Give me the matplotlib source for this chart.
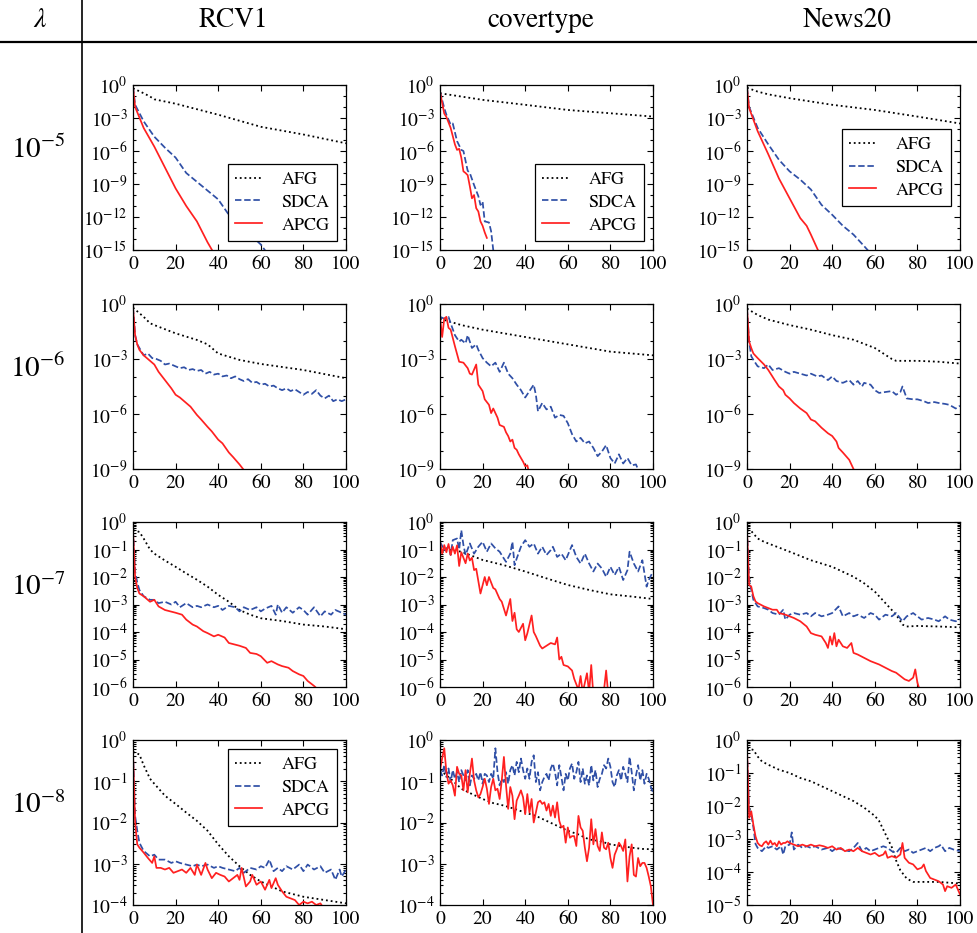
import numpy as np
import matplotlib.pyplot as plt
from matplotlib.lines import Line2D
from matplotlib.ticker import LogFormatterMathtext, NullFormatter

plt.rcParams['font.family'] = 'STIXGeneral'
plt.rcParams['mathtext.fontset'] = 'stix'

# values are log10 of the objective gap

# ---- RCV1, lambda = 1e-5
rcv1_5_afg_x = [0, 5, 8, 10, 20, 40, 60, 80, 100]
rcv1_5_afg = [-0.3, -0.75, -1.05, -1.3, -1.7, -2.7, -3.8, -4.5, -5.3]
rcv1_5_sdca_x = [0, 1, 5, 10, 15, 20, 25, 30, 35, 40, 45, 50, 55, 60, 63]
rcv1_5_sdca = [-0.2, -1.8, -3.3, -4.7, -5.7, -6.6, -8.0, -8.8, -9.6, -10.4, -11.8, -12.7, -13.6, -14.5, -15.3]
rcv1_5_apcg_x = [0, 1, 5, 10, 15, 20, 25, 30, 35, 38]
rcv1_5_apcg = [-0.2, -2.0, -3.9, -5.6, -7.5, -9.4, -11.0, -12.4, -14.3, -15.3]

# ---- covertype, lambda = 1e-5
cov_5_afg_x = [0, 20, 40, 60, 80, 100]
cov_5_afg = [-0.75, -1.35, -1.8, -2.27, -2.57, -2.87]
cov_5_sdca_x = [0, 2, 3, 5, 6, 8, 10, 11, 13, 14, 16, 18, 19, 20, 21, 23, 24, 25, 26]
cov_5_sdca = [-0.6, -2.1, -2.7, -3.6, -3.5, -5.1, -5.9, -6.0, -7.8, -8.0, -9.1, -10.1, -10.9, -10.6, -12.4, -12.5, -13.3, -15.0, -15.5]
cov_5_apcg_x = [0, 2, 3, 5, 7, 8, 9, 10, 11, 12, 13, 14, 15, 16, 17, 18, 19, 20, 21, 22]
cov_5_apcg = [-0.6, -2.6, -2.9, -3.9, -5.4, -5.9, -5.8, -6.6, -7.85, -8.0, -8.2, -9.2, -10.3, -10.0, -11.2, -11.5, -12.4, -12.8, -13.4, -13.9]

# ---- News20, lambda = 1e-5
news_5_afg_x = [0, 5, 10, 20, 40, 60, 80, 100]
news_5_afg = [-0.25, -0.6, -0.85, -1.2, -1.8, -2.27, -2.87, -3.5]
news_5_sdca_x = [0, 1, 5, 10, 15, 20, 25, 30, 35, 40, 45, 50, 55, 58]
news_5_sdca = [-0.25, -2.0, -3.9, -5.4, -6.8, -7.85, -8.6, -9.5, -10.9, -11.8, -12.8, -13.6, -14.65, -15.3]
news_5_apcg_x = [0, 1, 5, 10, 15, 20, 25, 28, 30, 34]
news_5_apcg = [-0.25, -2.1, -4.2, -6.3, -8.5, -10.3, -12.1, -12.8, -13.6, -15.3]

# ---- RCV1, lambda = 1e-6
rcv1_6_afg_x = [0, 5, 8, 10, 20, 30, 35, 40, 50, 60, 80, 100]
rcv1_6_afg = [-0.2, -0.7, -1.05, -1.15, -1.6, -1.96, -2.2, -2.7, -3.05, -3.27, -3.6, -4.05]
rcv1_6_sdca_x = [0, 1, 2, 4, 5, 7, 9, 11, 13, 15, 17, 20, 22, 24, 26, 28, 30, 32, 34, 36, 38, 40, 42, 44, 46, 48,
                 50, 52, 54, 56, 58, 60, 62, 64, 66, 68, 70, 72, 74, 76, 78, 80, 82, 84, 86, 88, 90, 92, 94, 96, 98, 100]
rcv1_6_sdca = [-0.2, -1.7, -2.2, -2.6, -2.8, -2.7, -2.95, -3.0, -3.1, -3.3, -3.25, -3.4, -3.5, -3.45, -3.6, -3.55,
               -3.65, -3.6, -3.8, -3.7, -3.85, -3.8, -3.95, -3.9, -4.05, -3.95, -4.1, -4.2, -4.1, -4.3, -4.25, -4.4,
               -4.35, -4.5, -4.45, -4.6, -4.7, -4.6, -4.75, -4.65, -4.8, -4.95, -4.8, -4.9, -4.7, -5.0, -5.15, -5.0,
               -5.3, -5.2, -5.3, -5.2]
rcv1_6_apcg_x = [0, 1, 2, 3, 5, 7, 10, 12, 15, 18, 20, 22, 25, 27, 30, 32, 35, 37, 40, 42, 45, 47, 50, 53]
rcv1_6_apcg = [-0.2, -1.7, -2.2, -2.5, -2.8, -3.0, -3.3, -3.7, -4.15, -4.6, -4.95, -5.1, -5.4, -5.6, -6.05, -6.3,
               -6.7, -6.95, -7.4, -7.6, -8.1, -8.35, -8.75, -9.2]

# ---- covertype, lambda = 1e-6
cov_6_afg_x = [0, 10, 20, 40, 60, 80, 100]
cov_6_afg = [-0.8, -1.15, -1.4, -1.8, -2.2, -2.6, -2.8]
cov_6_sdca_x = [0, 2, 4, 5, 7, 9, 10, 12, 13, 15, 17, 18, 20, 22, 24, 26, 28, 30, 32, 34, 36, 38, 40, 42, 44, 45,
                46, 48, 50, 52, 54, 56, 58, 60, 62, 64, 66, 68, 70, 72, 74, 76, 78, 80, 82, 84, 86, 88, 90, 92, 94]
cov_6_sdca = [-0.7, -0.8, -0.7, -1.05, -1.7, -2.05, -1.95, -2.15, -1.7, -2.4, -2.2, -2.5, -2.95, -3.2, -3.4, -3.2,
              -3.7, -3.2, -3.8, -4.05, -4.4, -4.7, -5.1, -4.75, -4.4, -4.95, -5.85, -5.4, -5.75, -5.6, -6.2, -6.05,
              -6.1, -6.5, -7.1, -7.5, -7.3, -7.6, -7.5, -7.85, -8.3, -8.05, -7.7, -8.4, -8.7, -8.2, -8.7, -8.4, -8.8,
              -8.75, -9.3]
cov_6_apcg_x = [0, 1, 2, 3, 4, 5, 7, 9, 11, 13, 14, 15, 17, 18, 20, 21, 23, 24, 25, 27, 28, 30, 31, 32, 33, 34,
                35, 36, 37, 38, 39, 40, 41, 42]
cov_6_apcg = [-0.7, -1.8, -0.8, -0.7, -1.3, -1.4, -2.3, -3.15, -3.2, -3.5, -3.8, -3.85, -3.3, -4.4, -4.75, -5.2,
              -5.5, -5.95, -5.7, -6.2, -6.6, -6.7, -7.0, -7.2, -7.5, -7.4, -7.85, -7.95, -8.2, -8.4, -8.6, -8.85,
              -8.8, -9.3]

# ---- News20, lambda = 1e-6
news_6_afg_x = [0, 5, 10, 20, 30, 40, 50, 60, 68, 70, 80, 90, 100]
news_6_afg = [-0.25, -0.6, -0.85, -1.15, -1.4, -1.7, -1.95, -2.4, -3.0, -3.1, -3.1, -3.15, -3.25]
news_6_sdca_x = [0, 1, 2, 3, 5, 8, 10, 12, 15, 18, 20, 22, 25, 28, 30, 33, 35, 38, 40, 42, 45, 48, 50, 52, 54, 55,
                 58, 60, 62, 65, 68, 70, 72, 73, 75, 78, 80, 83, 85, 88, 90, 93, 95, 98, 100]
news_6_sdca = [-0.25, -2.05, -2.85, -3.05, -3.4, -3.5, -3.3, -3.6, -3.5, -3.7, -3.8, -3.7, -3.8, -3.9, -3.8, -3.95,
               -3.9, -4.15, -3.95, -4.2, -4.3, -4.15, -4.4, -4.2, -4.5, -4.3, -4.4, -4.7, -4.85, -4.8, -4.75, -4.95,
               -4.8, -4.5, -5.15, -5.2, -5.2, -5.3, -5.4, -5.35, -5.4, -5.45, -5.5, -5.7, -5.55]
news_6_apcg_x = [0, 1, 2, 3, 5, 8, 10, 13, 15, 17, 18, 20, 22, 25, 28, 30, 32, 35, 38, 40, 42, 43, 45, 48, 50, 51]
news_6_apcg = [-0.25, -2.05, -2.4, -2.7, -2.95, -3.3, -3.6, -4.15, -4.5, -4.7, -4.95, -5.15, -5.4, -5.7, -5.95,
               -6.3, -6.4, -6.75, -7.05, -7.2, -7.5, -7.85, -8.1, -8.5, -9.0, -9.2]

# ---- RCV1, lambda = 1e-7
rcv1_7_afg_x = [0, 3, 5, 8, 10, 15, 20, 25, 30, 35, 40, 45, 50, 55, 60, 70, 80, 90, 100]
rcv1_7_afg = [-0.3, -0.36, -0.6, -1.0, -1.15, -1.4, -1.63, -1.87, -2.1, -2.35, -2.65, -2.9, -3.2, -3.37, -3.5,
              -3.6, -3.73, -3.8, -3.9]
rcv1_7_sdca_x = [0, 1, 2, 3, 5, 8, 10, 12, 15, 18, 20, 22, 25, 28, 30, 32, 35, 38, 40, 42, 45, 48, 50, 52, 55, 58,
                 60, 62, 65, 67, 68, 70, 72, 75, 78, 80, 82, 85, 88, 90, 93, 95, 98, 100]
rcv1_7_sdca = [-0.3, -1.8, -2.2, -2.47, -2.7, -2.83, -2.83, -2.95, -2.9, -3.0, -2.9, -3.1, -2.95, -3.1, -3.05, -3.1,
               -3.0, -3.1, -3.05, -3.2, -3.05, -3.1, -3.25, -3.1, -3.2, -3.1, -3.25, -3.15, -3.05, -3.37, -3.0, -3.3,
               -3.1, -3.3, -3.1, -3.2, -3.37, -3.1, -3.43, -3.25, -3.37, -3.2, -3.3, -3.37]
rcv1_7_apcg_x = [0, 1, 2, 3, 5, 8, 10, 12, 15, 20, 23, 25, 28, 30, 33, 35, 38, 40, 43, 45, 48, 50, 53, 55, 58, 60,
                 63, 65, 68, 70, 73, 75, 78, 80, 82, 85, 87]
rcv1_7_apcg = [-0.3, -2.0, -2.4, -2.6, -2.7, -2.9, -2.83, -3.07, -3.2, -3.3, -3.37, -3.55, -3.73, -3.8, -3.97, -4.04,
               -4.16, -4.1, -4.2, -4.4, -4.46, -4.5, -4.58, -4.76, -4.8, -4.88, -5.12, -5.06, -5.18, -5.24, -5.3,
               -5.42, -5.54, -5.6, -5.78, -5.96, -6.1]

# ---- covertype, lambda = 1e-7
cov_7_afg_x = [0, 10, 20, 30, 40, 50, 60, 70, 80, 90, 100]
cov_7_afg = [-0.96, -1.08, -1.38, -1.57, -1.8, -2.05, -2.29, -2.47, -2.63, -2.71, -2.8]
cov_7_sdca_x = [0, 2, 4, 5, 6, 8, 9, 10, 11, 12, 14, 16, 18, 20, 22, 24, 26, 28, 30, 31, 33, 34, 35, 36, 38, 40,
                42, 44, 46, 48, 50, 52, 53, 55, 57, 59, 61, 62, 64, 66, 68, 70, 72, 74, 76, 78, 80, 82, 84, 86, 88,
                89, 91, 93, 95, 97, 98, 100]
cov_7_sdca = [-0.72, -1.02, -0.9, -1.2, -0.66, -0.6, -1.0, -0.3, -0.84, -1.2, -0.78, -1.15, -0.9, -0.72, -1.08,
              -0.78, -0.96, -1.08, -1.33, -1.45, -1.15, -0.72, -1.57, -1.33, -0.9, -0.66, -0.9, -0.78, -1.15, -0.9,
              -1.2, -1.02, -0.9, -1.27, -1.15, -1.39, -1.02, -0.84, -1.27, -1.51, -1.15, -1.51, -1.8, -1.51, -1.69,
              -1.99, -1.63, -1.93, -1.63, -2.11, -1.75, -1.08, -1.51, -1.8, -1.39, -2.35, -2.11, -1.8]
cov_7_apcg_x = [0, 1, 2, 3, 4, 5, 6, 7, 8, 9, 10, 11, 12, 13, 14, 15, 16, 17, 19, 21, 22, 23, 25, 26, 28, 29, 31,
                33, 34, 35, 36, 37, 39, 40, 41, 43, 44, 45, 47, 48, 50, 52, 54, 55, 56, 57, 58, 60, 62, 63, 65, 66,
                67, 69, 70, 71, 72, 74, 76, 78, 79, 80, 84, 88, 92, 96, 100]
cov_7_apcg = [-0.72, -1.15, -0.84, -1.1, -0.8, -1.2, -0.9, -1.15, -0.85, -1.6, -1.1, -1.3, -1.5, -1.15, -1.4, -1.3,
              -1.75, -1.7, -2.6, -2.0, -2.3, -2.0, -2.4, -2.45, -2.8, -2.9, -3.4, -2.8, -3.6, -3.3, -3.9, -4.0,
              -3.7, -4.3, -4.05, -3.4, -4.0, -4.15, -4.5, -4.6, -4.5, -4.4, -4.45, -4.2, -5.0, -4.9, -5.2, -5.25,
              -5.4, -5.7, -6.1, -5.6, -6.2, -5.5, -6.2, -5.2, -6.3, -6.6, -6.8, -5.4, -6.3, -6.9, -7.0, -7.2, -7.4,
              -7.6, -7.8]

# ---- News20, lambda = 1e-7
news_7_afg_x = [0, 2, 5, 8, 10, 20, 30, 40, 50, 55, 60, 65, 70, 73, 75, 80, 90, 100]
news_7_afg = [-0.3, -0.33, -0.6, -0.72, -0.78, -1.08, -1.39, -1.63, -1.99, -2.23, -2.53, -2.95, -3.37, -3.73, -3.8,
              -3.78, -3.8, -3.83]
news_7_sdca_x = [0, 1, 2, 3, 5, 8, 10, 12, 15, 17, 18, 20, 22, 25, 28, 30, 32, 35, 38, 40, 43, 45, 48, 50, 52, 55,
                 58, 60, 62, 65, 68, 70, 73, 75, 78, 80, 82, 85, 88, 90, 93, 95, 98, 100]
news_7_sdca = [-0.3, -2.1, -2.47, -2.83, -3.07, -3.13, -3.19, -3.31, -3.37, -3.19, -3.55, -3.37, -3.31, -3.37,
               -3.31, -3.43, -3.31, -3.43, -3.37, -3.31, -3.07, -3.43, -3.31, -3.43, -3.37, -3.49, -3.31, -3.37,
               -3.55, -3.37, -3.43, -3.31, -3.61, -3.43, -3.31, -3.43, -3.55, -3.49, -3.55, -3.61, -3.43, -3.55,
               -3.61, -3.53]
news_7_apcg_x = [0, 1, 2, 3, 4, 5, 8, 10, 12, 14, 15, 18, 20, 22, 25, 28, 30, 32, 35, 37, 38, 39, 40, 41, 42, 43,
                 45, 47, 49, 50, 52, 55, 58, 60, 62, 65, 68, 70, 72, 74, 76, 78, 79, 80, 81]
news_7_apcg = [-0.3, -2.29, -2.35, -2.7, -2.89, -2.95, -3.07, -3.13, -3.19, -3.19, -3.31, -3.37, -3.43, -3.49,
               -3.61, -3.8, -4.04, -4.1, -4.16, -4.4, -4.58, -4.16, -4.46, -4.04, -4.52, -4.28, -4.52, -4.58, -4.4,
               -4.76, -4.82, -4.94, -5.06, -5.12, -5.18, -5.3, -5.42, -5.48, -5.6, -5.72, -5.78, -5.66, -5.36,
               -5.84, -6.1]

# ---- RCV1, lambda = 1e-8
rcv1_8_afg_x = [0, 3, 5, 8, 10, 15, 20, 25, 30, 35, 40, 45, 50, 55, 60, 65, 70, 80, 90, 100]
rcv1_8_afg = [-0.29, -0.35, -0.61, -0.94, -1.06, -1.35, -1.55, -1.76, -1.96, -2.2, -2.53, -2.82, -3.06, -3.27,
              -3.43, -3.55, -3.67, -3.8, -3.88, -3.96]
rcv1_8_sdca_x = [0, 1, 2, 3, 5, 8, 10, 12, 15, 18, 20, 22, 25, 28, 30, 32, 35, 38, 40, 42, 45, 48, 50, 52, 55, 58,
                 60, 62, 64, 66, 68, 70, 72, 75, 78, 80, 82, 85, 88, 90, 93, 95, 97, 98, 100]
rcv1_8_sdca = [-0.3, -1.84, -2.2, -2.49, -2.69, -2.82, -2.78, -2.9, -2.9, -2.98, -2.94, -2.98, -3.02, -3.06, -3.02,
               -3.06, -3.02, -3.1, -3.06, -3.1, -3.14, -3.18, -3.1, -3.22, -3.1, -3.14, -3.06, -3.1, -2.9, -3.18,
               -3.1, -3.18, -3.06, -3.14, -3.02, -3.18, -3.02, -3.14, -3.06, -3.22, -3.14, -3.39, -3.14, -3.31,
               -3.14]
rcv1_8_apcg_x = [0, 1, 2, 3, 5, 7, 9, 10, 11, 13, 15, 17, 19, 21, 23, 25, 27, 29, 30, 32, 34, 35, 37, 39, 41, 43,
                 45, 47, 49, 50, 51, 53, 55, 56, 58, 60, 62, 64, 65, 67, 68, 70, 72, 74, 76, 78, 80, 82, 84, 86, 88,
                 90, 92, 94]
rcv1_8_apcg = [-0.3, -2.0, -2.53, -2.61, -2.73, -2.86, -2.98, -2.82, -3.1, -3.1, -3.14, -3.1, -3.22, -3.18, -3.14,
               -3.22, -3.1, -3.27, -3.02, -3.27, -2.98, -3.14, -3.35, -3.22, -3.27, -3.31, -3.43, -3.35, -3.27,
               -3.39, -3.1, -3.55, -3.43, -3.27, -3.51, -3.43, -3.63, -3.39, -3.59, -3.35, -3.51, -3.67, -3.8,
               -3.84, -3.88, -4.0, -3.92, -3.96, -3.92, -4.0, -3.96, -4.12, -4.02, -4.12]

# ---- covertype, lambda = 1e-8 (one value per pass for the noisy curves)
cov_8_afg_x = [0, 5, 10, 15, 20, 25, 30, 35, 40, 45, 50, 55, 60, 65, 70, 75, 80, 85, 90, 95, 100]
cov_8_afg = [-0.73, -0.94, -1.18, -1.31, -1.43, -1.53, -1.59, -1.67, -1.76, -1.84, -1.96, -2.08, -2.2, -2.29,
             -2.41, -2.45, -2.53, -2.57, -2.61, -2.64, -2.65]
cov_8_sdca = [-0.73, -0.86, -0.61, -0.90, -0.69, -1.02, -0.73, -0.94, -0.78, -1.02,
              -0.73, -0.86, -0.98, -0.73, -1.10, -0.86, -0.94, -0.82, -0.98, -0.78,
              -1.06, -0.82, -0.86, -1.02, -0.82, -0.94, -0.20, -0.78, -1.10, -0.94,
              -1.02, -0.78, -1.06, -0.73, -0.61, -0.86, -0.53, -0.78, -0.45, -0.73,
              -0.94, -0.69, -0.94, -0.53, -0.37, -1.02, -0.78, -1.22, -1.02, -0.90,
              -0.82, -0.98, -0.69, -0.57, -0.78, -1.10, -0.61, -0.90, -1.22, -0.82,
              -0.98, -0.69, -0.57, -0.94, -0.78, -0.53, -1.02, -0.69, -1.06, -0.86,
              -1.10, -0.61, -0.98, -0.73, -1.14, -0.94, -0.82, -0.61, -0.69, -0.45,
              -0.65, -1.02, -1.14, -0.86, -0.73, -0.98, -0.65, -0.82, -1.02, -0.41,
              -0.78, -1.22, -0.86, -0.61, -0.98, -0.73, -1.06, -0.82, -0.94, -1.14,
              -1.27]
cov_8_apcg = [-0.73, -0.45, -0.20, -0.78, -1.06, -0.98, -1.10, -1.35, -0.65, -0.82,
              -0.86, -1.22, -0.73, -1.27, -0.82, -0.45, -0.98, -1.22, -1.39, -1.31,
              -1.14, -0.94, -1.18, -1.55, -1.14, -0.94, -1.22, -1.18, -1.43, -0.98,
              -0.41, -1.10, -1.67, -1.14, -1.35, -1.92, -1.47, -1.35, -1.22, -1.39,
              -1.80, -1.31, -1.76, -1.43, -2.00, -1.76, -1.51, -1.47, -1.55, -1.51,
              -1.71, -1.55, -1.84, -1.59, -1.88, -1.51, -1.96, -2.12, -2.08, -2.49,
              -2.12, -2.37, -2.33, -2.33, -2.57, -1.84, -2.12, -2.20, -2.61, -2.94,
              -2.61, -1.92, -2.53, -2.16, -2.57, -2.69, -2.24, -2.61, -2.65, -2.49,
              -2.86, -3.10, -2.78, -2.65, -2.49, -2.57, -2.69, -2.41, -3.43, -2.82,
              -2.53, -3.27, -3.31, -2.86, -3.06, -2.98, -2.98, -3.10, -3.31, -3.55,
              -4.00]

# ---- News20, lambda = 1e-8
news_8_afg_x = [0, 3, 5, 7, 10, 15, 20, 25, 30, 35, 40, 45, 50, 55, 60, 62, 65, 68, 70, 72, 75, 78, 80, 90, 100]
news_8_afg = [-0.25, -0.3, -0.5, -0.65, -0.75, -0.9, -1.0, -1.15, -1.25, -1.4, -1.55, -1.7, -1.85, -2.05, -2.3,
              -2.45, -2.85, -3.25, -3.65, -3.95, -4.2, -4.3, -4.3, -4.3, -4.35]
news_8_sdca_x = [0, 1, 2, 3, 4, 5, 6, 7, 9, 10, 12, 14, 16, 17, 18, 20, 21, 22, 24, 26, 28, 30, 32, 35, 38, 40, 42,
                 45, 48, 50, 52, 54, 56, 58, 60, 62, 64, 66, 68, 70, 72, 74, 76, 78, 80, 82, 84, 86, 88, 90, 91, 93,
                 95, 97, 100]
news_8_sdca = [-0.35, -2.1, -2.25, -2.65, -3.15, -3.27, -3.32, -3.37, -3.22, -3.27, -3.22, -3.32, -3.22, -3.47,
               -3.22, -3.17, -2.8, -3.32, -3.17, -3.27, -3.22, -3.27, -3.22, -3.32, -3.27, -3.37, -3.27, -3.32,
               -3.37, -3.27, -3.12, -3.37, -3.27, -3.37, -3.32, -3.27, -3.22, -3.27, -3.37, -3.42, -3.27, -3.37,
               -3.32, -3.42, -3.37, -3.32, -3.27, -3.37, -3.27, -3.22, -3.17, -3.37, -3.27, -3.32, -3.37]
news_8_apcg_x = [0, 1, 2, 3, 4, 5, 6, 7, 8, 9, 10, 11, 12, 13, 14, 15, 16, 17, 18, 19, 20, 22, 24, 26, 28, 30, 32,
                 34, 36, 38, 40, 42, 44, 46, 48, 50, 52, 54, 56, 58, 60, 62, 64, 65, 66, 68, 70, 72, 73, 74, 76, 78,
                 80, 82, 83, 84, 86, 88, 90, 92, 93, 94, 96, 98, 99, 100]
news_8_apcg = [-0.25, -2.36, -2.16, -2.57, -2.92, -3.12, -3.19, -3.22, -3.12, -3.07, -3.17, -3.05, -3.17, -3.12,
               -3.22, -3.07, -3.17, -3.12, -3.12, -3.07, -3.12, -3.17, -3.22, -3.17, -3.22, -3.17, -3.22, -3.19,
               -3.22, -3.27, -3.22, -3.32, -3.27, -3.37, -3.32, -3.37, -3.27, -3.37, -3.42, -3.47, -3.42, -3.52,
               -3.47, -3.37, -3.57, -3.52, -3.57, -3.47, -3.12, -3.57, -3.72, -3.77, -3.92, -3.87, -3.77, -3.97,
               -4.18, -4.23, -4.28, -4.38, -4.58, -4.43, -4.48, -4.38, -4.53, -4.68]

datasets = ['RCV1', 'covertype', 'News20']
lambdas = ['$10^{-5}$', '$10^{-6}$', '$10^{-7}$', '$10^{-8}$']

# (row, col, afg, sdca, apcg, lowest decade, label step, legend location)
panels = [
    (0, 0, (rcv1_5_afg_x, rcv1_5_afg), (rcv1_5_sdca_x, rcv1_5_sdca), (rcv1_5_apcg_x, rcv1_5_apcg), -15, 3, 'lower right'),
    (0, 1, (cov_5_afg_x, cov_5_afg), (cov_5_sdca_x, cov_5_sdca), (cov_5_apcg_x, cov_5_apcg), -15, 3, 'lower right'),
    (0, 2, (news_5_afg_x, news_5_afg), (news_5_sdca_x, news_5_sdca), (news_5_apcg_x, news_5_apcg), -15, 3, 'center right'),
    (1, 0, (rcv1_6_afg_x, rcv1_6_afg), (rcv1_6_sdca_x, rcv1_6_sdca), (rcv1_6_apcg_x, rcv1_6_apcg), -9, 3, None),
    (1, 1, (cov_6_afg_x, cov_6_afg), (cov_6_sdca_x, cov_6_sdca), (cov_6_apcg_x, cov_6_apcg), -9, 3, None),
    (1, 2, (news_6_afg_x, news_6_afg), (news_6_sdca_x, news_6_sdca), (news_6_apcg_x, news_6_apcg), -9, 3, None),
    (2, 0, (rcv1_7_afg_x, rcv1_7_afg), (rcv1_7_sdca_x, rcv1_7_sdca), (rcv1_7_apcg_x, rcv1_7_apcg), -6, 1, None),
    (2, 1, (cov_7_afg_x, cov_7_afg), (cov_7_sdca_x, cov_7_sdca), (cov_7_apcg_x, cov_7_apcg), -6, 1, None),
    (2, 2, (news_7_afg_x, news_7_afg), (news_7_sdca_x, news_7_sdca), (news_7_apcg_x, news_7_apcg), -6, 1, None),
    (3, 0, (rcv1_8_afg_x, rcv1_8_afg), (rcv1_8_sdca_x, rcv1_8_sdca), (rcv1_8_apcg_x, rcv1_8_apcg), -4, 1, 'upper right'),
    (3, 1, (cov_8_afg_x, cov_8_afg), (np.arange(len(cov_8_sdca)), cov_8_sdca), (np.arange(len(cov_8_apcg)), cov_8_apcg), -4, 1, None),
    (3, 2, (news_8_afg_x, news_8_afg), (news_8_sdca_x, news_8_sdca), (news_8_apcg_x, news_8_apcg), -5, 1, None),
]

W, H = 978, 933
fig = plt.figure(figsize=(W / 100, H / 100), dpi=100)

col_left = [133, 440, 747]
row_top = [85, 304, 522, 740]
ax_w, ax_h = 213, 165

red = '#ff2020'
blue = '#2f4fa6'

for row, col, afg, sdca, apcg, low, step, loc in panels:
    ax = fig.add_axes([col_left[col] / W, 1 - (row_top[row] + ax_h) / H, ax_w / W, ax_h / H])
    ax.semilogy(afg[0], 10.0 ** np.array(afg[1]), color='black', linestyle=':', linewidth=1.3, label='AFG')
    ax.semilogy(sdca[0], 10.0 ** np.array(sdca[1]), color=blue, linestyle='--', linewidth=1.25, label='SDCA')
    ax.semilogy(apcg[0], 10.0 ** np.array(apcg[1]), color=red, linestyle='-', linewidth=1.25, label='APCG')
    ax.set_xlim(0, 100)
    ax.set_ylim(10.0 ** low, 1)
    ax.set_xticks([0, 20, 40, 60, 80, 100])
    ax.set_yticks([10.0 ** e for e in range(low, 1) if e % step == 0])
    if step == 1:
        ax.set_yticks([s * 10.0 ** e for e in range(low, 0) for s in range(2, 10)], minor=True)
    else:
        ax.set_yticks([10.0 ** e for e in range(low, 0) if e % step != 0], minor=True)
    ax.yaxis.set_major_formatter(LogFormatterMathtext())
    ax.yaxis.set_minor_formatter(NullFormatter())
    ax.tick_params(which='both', direction='in', top=True, right=True, labelsize=14, width=0.8)
    ax.tick_params(which='major', length=4, pad=4)
    ax.tick_params(which='minor', length=2)
    for s in ax.spines.values():
        s.set_linewidth(0.9)
    if loc:
        leg = ax.legend(loc=loc, fontsize=13, fancybox=False, framealpha=1, edgecolor='black',
                        handlelength=1.5, handletextpad=1.1, borderaxespad=0.5, labelspacing=0.35)
        leg.get_frame().set_linewidth(0.9)

# header row and the lambda column
fig.text(40 / W, 1 - 20 / H, r'$\lambda$', fontsize=20, ha='center', va='center')
for i, name in enumerate(datasets):
    fig.text((col_left[i] + ax_w / 2 - 6) / W, 1 - 20 / H, name, fontsize=19.5, ha='center', va='center')
for i, lab in enumerate(lambdas):
    fig.text(38 / W, 1 - (row_top[i] + 65) / H, lab, fontsize=21, ha='center', va='center')

fig.add_artist(Line2D([0, 1], [1 - 42 / H, 1 - 42 / H], color='black', linewidth=1.6, transform=fig.transFigure))
fig.add_artist(Line2D([82 / W, 82 / W], [0, 1], color='black', linewidth=1.2, transform=fig.transFigure))

fig.savefig('out.png', dpi=100)
